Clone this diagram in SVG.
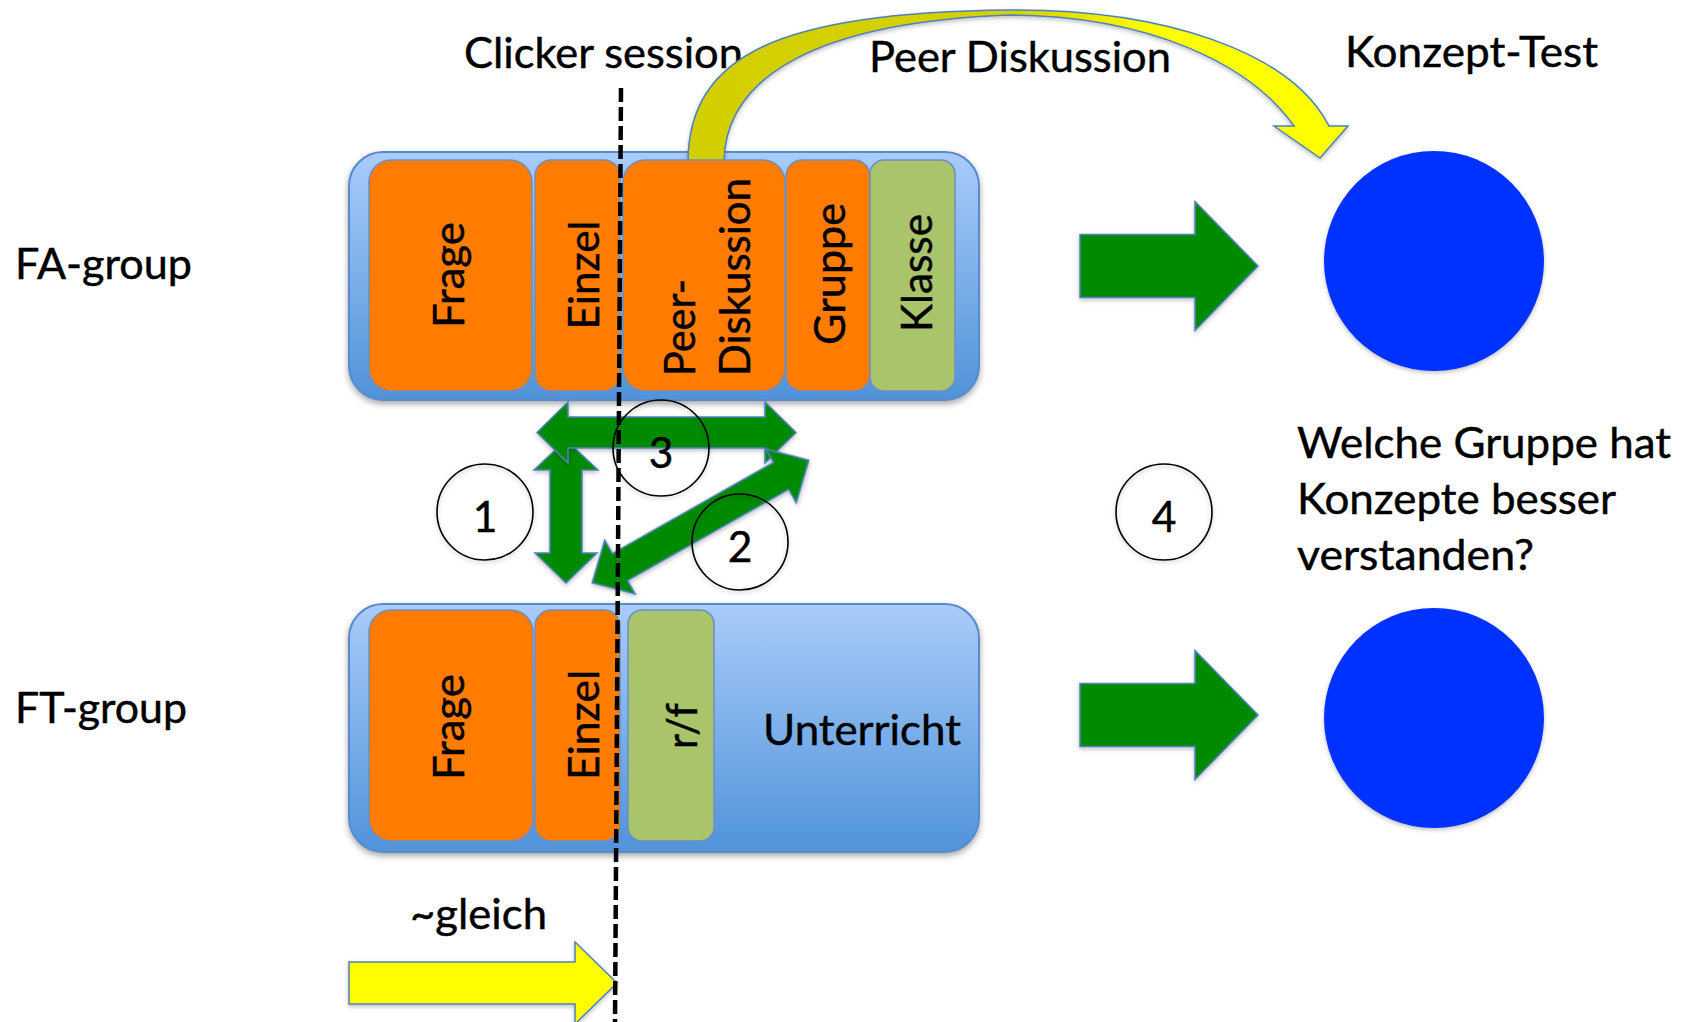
<svg xmlns="http://www.w3.org/2000/svg" width="1693" height="1022" viewBox="0 0 1693 1022">
<defs>
  <linearGradient id="gBlue" x1="0" y1="0" x2="0" y2="1">
    <stop offset="0" stop-color="#A9CCFA"/>
    <stop offset="1" stop-color="#5093D9"/>
  </linearGradient>
  <linearGradient id="gYel" gradientUnits="userSpaceOnUse" x1="687" y1="0" x2="1348" y2="0">
    <stop offset="0" stop-color="#D2CE00"/>
    <stop offset="0.5" stop-color="#D6D200"/>
    <stop offset="0.72" stop-color="#FFFF00"/>
  </linearGradient>
  <filter id="sh" x="-10%" y="-10%" width="125%" height="135%">
    <feDropShadow dx="0" dy="3" stdDeviation="3" flood-color="#000" flood-opacity="0.35"/>
  </filter>
  <filter id="shs" x="-10%" y="-10%" width="125%" height="135%">
    <feDropShadow dx="0" dy="2" stdDeviation="2" flood-color="#000" flood-opacity="0.25"/>
  </filter>
</defs>
<style>
  text { font-family: Lato, "Liberation Sans", sans-serif; font-size: 42.5px; fill: #000; stroke: #000; stroke-width: 0.45px; }
  .ct { fill: url(#gBlue); stroke: #5A8ACB; stroke-width: 2; filter: url(#sh); }
  .or { fill: #FF7C00; stroke: #6C8FC4; stroke-width: 1.5; }
  .gr { fill: #AAC46C; stroke: #6C8FC4; stroke-width: 1.5; }
  .ga { fill: #008A00; stroke: #4F81BD; stroke-width: 1.5; filter: url(#shs); }
  .ya { stroke: #4F81BD; stroke-width: 1.5; filter: url(#shs); }
  .num { fill: none; stroke: #000; stroke-width: 1.6; filter: url(#shs); }
  .dot { fill: #0433FF; filter: url(#shs); }
  .dash { stroke: #000; stroke-width: 4.5; stroke-dasharray: 14 5; fill: none; }
</style>
<rect width="1693" height="1022" fill="#fff"/>

<!-- titles / labels -->
<g id="label-clicker"><text x="464" y="68" textLength="279" lengthAdjust="spacingAndGlyphs">Clicker session</text></g>
<g id="label-peer"><text x="869" y="72" textLength="302" lengthAdjust="spacingAndGlyphs">Peer Diskussion</text></g>
<g id="label-konzept"><text x="1345" y="67" textLength="253" lengthAdjust="spacingAndGlyphs">Konzept-Test</text></g>
<g id="label-fa"><text x="15" y="279" textLength="177" lengthAdjust="spacingAndGlyphs">FA-group</text></g>
<g id="label-ft"><text x="15" y="723" textLength="172" lengthAdjust="spacingAndGlyphs">FT-group</text></g>
<g id="label-question">
  <text x="1297" y="458" textLength="374" lengthAdjust="spacingAndGlyphs">Welche Gruppe hat</text>
  <text x="1297" y="514" textLength="319" lengthAdjust="spacingAndGlyphs">Konzepte besser</text>
  <text x="1297" y="570" textLength="237" lengthAdjust="spacingAndGlyphs">verstanden?</text>
</g>
<g id="label-gleich"><text x="410" y="929" textLength="137" lengthAdjust="spacingAndGlyphs">~gleich</text></g>

<!-- containers -->
<g id="fa-container"><rect class="ct" x="349" y="152" width="630" height="248" rx="34"/></g>
<g id="ft-container">
  <rect class="ct" x="349" y="604" width="630" height="248" rx="34"/>
  <text x="763" y="745" textLength="198" lengthAdjust="spacingAndGlyphs">Unterricht</text>
</g>

<!-- connectors -->
<g id="connectors">
  <path class="ya" fill="url(#gYel)" d="M688,161 C689,55 780,12 1010,10 C1160,9 1290,50 1329,126 L1348,126 L1320,158 L1274,126 L1294,126 C1250,64 1150,16 1010,15 C820,22 726,75 724,161 Z"/>
  <path class="ga" d="M1080,234.5 L1195,234.5 L1195,201.5 L1258,266 L1195,330.5 L1195,297.5 L1080,297.5 Z"/>
  <path class="ga" d="M1080,683.5 L1195,683.5 L1195,650.5 L1258,715 L1195,779.5 L1195,746.5 L1080,746.5 Z"/>
  <path class="ga" d="M566,440 L598,470 L582,470 L582,553 L597,553 L566,583 L535,553 L550,553 L550,470 L534,470 Z"/>
  <path class="ga" transform="translate(666.5,432.5)" d="M-129.5,0 L-98.5,-30.5 L-98.5,-15.5 L98.5,-15.5 L98.5,-30.5 L129.5,0 L98.5,30.5 L98.5,15.5 L-98.5,15.5 L-98.5,30.5 Z"/>
  <path class="ga" transform="translate(700.5,521.5) rotate(-29.5)" d="M-124.5,0 L-92.5,-31 L-92.5,-15.5 L92.5,-15.5 L92.5,-31 L124.5,0 L92.5,31 L92.5,15.5 L-92.5,15.5 L-92.5,31 Z"/>
  <path class="ya" fill="#FFFF00" d="M349,962 L575,962 L575,942 L617,983 L575,1024 L575,1004 L349,1004 Z"/>
</g>

<!-- FA boxes -->
<g id="fa-frage"><rect class="or" x="369" y="160" width="163" height="231" rx="22"/>
  <text transform="translate(464,275) rotate(-90)" text-anchor="middle" textLength="106" lengthAdjust="spacingAndGlyphs">Frage</text></g>
<g id="fa-einzel"><rect class="or" x="535" y="160" width="85" height="231" rx="16"/>
  <text transform="translate(599,275) rotate(-90)" text-anchor="middle" textLength="109" lengthAdjust="spacingAndGlyphs">Einzel</text></g>
<g id="fa-peer"><rect class="or" x="623" y="160" width="162" height="231" rx="22"/>
  <text transform="translate(695,376) rotate(-90)" textLength="97" lengthAdjust="spacingAndGlyphs">Peer-</text>
  <text transform="translate(750,376) rotate(-90)" textLength="198" lengthAdjust="spacingAndGlyphs">Diskussion</text></g>
<g id="fa-gruppe"><rect class="or" x="786" y="160" width="84" height="231" rx="16"/>
  <text transform="translate(845,274) rotate(-90)" text-anchor="middle" textLength="142" lengthAdjust="spacingAndGlyphs">Gruppe</text></g>
<g id="fa-klasse"><rect class="gr" x="870" y="160" width="85" height="231" rx="14"/>
  <text transform="translate(932,273) rotate(-90)" text-anchor="middle" textLength="118" lengthAdjust="spacingAndGlyphs">Klasse</text></g>

<!-- FT boxes -->
<g id="ft-frage"><rect class="or" x="369" y="610" width="164" height="231" rx="22"/>
  <text transform="translate(464,727) rotate(-90)" text-anchor="middle" textLength="106" lengthAdjust="spacingAndGlyphs">Frage</text></g>
<g id="ft-einzel"><rect class="or" x="535" y="610" width="85" height="231" rx="16"/>
  <text transform="translate(599,725) rotate(-90)" text-anchor="middle" textLength="110" lengthAdjust="spacingAndGlyphs">Einzel</text></g>
<g id="ft-rf"><rect class="gr" x="628" y="610" width="86" height="231" rx="14"/>
  <text transform="translate(697,726) rotate(-90)" text-anchor="middle" textLength="46" lengthAdjust="spacingAndGlyphs">r/f</text></g>

<!-- separator -->
<g id="separator"><line class="dash" x1="621" y1="88" x2="615" y2="1022"/></g>

<!-- result circles -->
<g id="fa-test"><circle class="dot" cx="1434" cy="261" r="110"/></g>
<g id="ft-test"><circle class="dot" cx="1434" cy="718" r="110"/></g>

<!-- numbered markers -->
<g id="num-1"><circle class="num" cx="485" cy="512" r="48"/><text x="485" y="532" text-anchor="middle">1</text></g>
<g id="num-3"><circle class="num" cx="661" cy="448" r="48"/><text x="661" y="468" text-anchor="middle">3</text></g>
<g id="num-2"><circle class="num" cx="740" cy="542" r="48"/><text x="740" y="562" text-anchor="middle">2</text></g>
<g id="num-4"><circle class="num" cx="1164" cy="512" r="48"/><text x="1164" y="532" text-anchor="middle">4</text></g>
</svg>
